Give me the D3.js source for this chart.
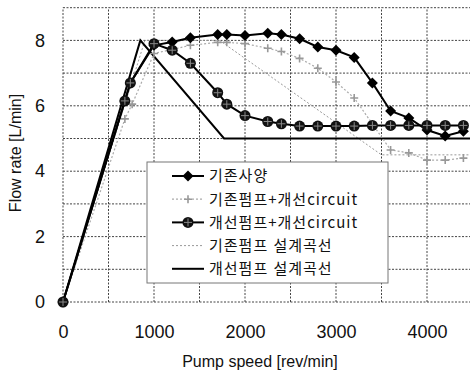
<!DOCTYPE html>
<html lang="ko">
<head>
<meta charset="UTF-8">
<title>Flow rate vs Pump speed</title>
<script src="https://d3js.org/d3.v7.min.js"></script>
<style>
  body { margin: 0; background: #fff; }
  .grid line { stroke: #444; stroke-width: 1; stroke-dasharray: 2,1.5; }
  .tick text { font-family: "Liberation Sans", Arial, sans-serif; font-size: 18px; fill: #111; }
  .title { font-family: "Liberation Sans", Arial, sans-serif; font-size: 16px; fill: #111; }
  .legend text { font-family: "Noto Sans CJK KR", sans-serif; font-size: 15px; fill: #111; }
</style>
</head>
<body>
<svg width="470" height="372"></svg>
<script>
// readings from the picture (rev/min -> L/min)
const baseSpec = [[0,0],[680,6.15],[740,6.7],[1000,7.85],[1200,7.95],[1400,8.08],[1700,8.18],[1800,8.18],
  [2000,8.15],[2250,8.22],[2400,8.18],[2600,8.05],[2800,7.8],[3000,7.7],[3200,7.48],[3400,6.7],
  [3600,5.84],[3800,5.63],[4000,5.26],[4200,5.08],[4400,5.22]];
const basePumpNewCircuit = [[0,0],[680,5.6],[760,6.05],[1000,7.6],[1400,7.85],[1700,7.94],[1800,7.94],
  [2000,7.9],[2250,7.76],[2400,7.66],[2600,7.45],[2800,7.15],[3000,6.73],[3200,6.24],[3600,4.65],
  [3800,4.56],[4000,4.34],[4200,4.34],[4400,4.4]];
const newPumpNewCircuit = [[0,0],[680,6.15],[740,6.7],[1000,7.9],[1200,7.7],[1400,7.3],[1700,6.4],[1800,6.05],
  [2000,5.7],[2250,5.52],[2400,5.45],[2600,5.38],[2800,5.38],[3000,5.38],[3200,5.38],[3400,5.4],
  [3600,5.4],[3800,5.4],[4000,5.4],[4200,5.4],[4400,5.4]];
const baseDesign = [[0,0],[900,8],[1720,8],[3500,4.5],[4500,4.5]];
const newDesign = [[0,0],[850,8],[1770,5],[4500,5]];

const xTicks = [0, 1000, 2000, 3000, 4000];
const yTicks = [0, 2, 4, 6, 8];
const legendLabels = ["기존사양", "기존펌프+개선circuit", "개선펌프+개선circuit", "기존펌프 설계곡선", "개선펌프 설계곡선"];

const svg = d3.select("svg");
const x = d3.scaleLinear().domain([0, 4500]).range([63, 472.5]);
const y = d3.scaleLinear().domain([0, 9]).range([302, 7.7]);

// grid
const grid = svg.append("g").attr("class", "grid");
grid.selectAll(".v").data(d3.range(0, 4501, 500)).enter().append("line")
  .attr("x1", d => x(d)).attr("x2", d => x(d)).attr("y1", y(0)).attr("y2", y(9));
grid.selectAll(".h").data(d3.range(0, 10)).enter().append("line")
  .attr("x1", x(0)).attr("x2", x(4500)).attr("y1", d => y(d)).attr("y2", d => y(d));

// axes
svg.append("g").attr("transform", `translate(0,${y(0)})`)
  .call(d3.axisBottom(x).tickValues(xTicks).tickFormat(d3.format("d")).tickSize(0).tickPadding(23))
  .call(g => g.select(".domain").remove());
svg.append("g").attr("transform", `translate(${x(0)},0)`)
  .call(d3.axisLeft(y).tickValues(yTicks).tickSize(0).tickPadding(18))
  .call(g => g.select(".domain").remove());

svg.append("text").attr("class", "title").attr("x", 260).attr("y", 367)
  .attr("text-anchor", "middle").text("Pump speed [rev/min]");
svg.append("text").attr("class", "title")
  .attr("transform", "translate(21,153) rotate(-90)")
  .attr("text-anchor", "middle").text("Flow rate [L/min]");

const line = d3.line().x(d => x(d[0])).y(d => y(d[1]));
const diamond = "M0,-5.5L5.5,0L0,5.5L-5.5,0Z";

function drawMarker(g, kind) {
  if (kind === "diamond") {
    g.append("path").attr("d", diamond).attr("fill", "#000");
  } else if (kind === "circle") {
    g.append("circle").attr("r", 5.5).attr("fill", "#111");
    g.append("path").attr("d", "M-4,0H4M0,-4V4").attr("stroke", "#888").attr("stroke-width", 1);
  } else if (kind === "plus") {
    g.append("path").attr("d", "M-4,0H4M0,-4V4").attr("stroke", "#999").attr("stroke-width", 1.6);
  }
}

const series = [
  { data: baseDesign, stroke: "#999", width: 1, dash: "2,2", marker: null },
  { data: newDesign, stroke: "#000", width: 2, dash: null, marker: null },
  { data: basePumpNewCircuit, stroke: "#aaa", width: 1.2, dash: "2,2", marker: "plus" },
  { data: baseSpec, stroke: "#000", width: 2, dash: null, marker: "diamond" },
  { data: newPumpNewCircuit, stroke: "#000", width: 2, dash: null, marker: "circle" }
];

series.forEach(s => {
  svg.append("path").datum(s.data).attr("d", line)
    .attr("fill", "none").attr("stroke", s.stroke).attr("stroke-width", s.width)
    .attr("stroke-dasharray", s.dash);
  if (s.marker) {
    svg.append("g").selectAll("g").data(s.data).enter().append("g")
      .attr("transform", d => `translate(${x(d[0])},${y(d[1])})`)
      .each(function () { drawMarker(d3.select(this), s.marker); });
  }
});

// legend
const legendStyles = [
  { stroke: "#000", width: 2, dash: null, marker: "diamond" },
  { stroke: "#aaa", width: 1.2, dash: "2,2", marker: "plus" },
  { stroke: "#000", width: 2, dash: null, marker: "circle" },
  { stroke: "#999", width: 1, dash: "2,2", marker: null },
  { stroke: "#000", width: 2, dash: null, marker: null }
];
const legend = svg.append("g").attr("class", "legend");
legend.append("rect").attr("x", 147).attr("y", 162).attr("width", 241).attr("height", 121)
  .attr("fill", "#fff").attr("stroke", "#777").attr("stroke-width", 1);
legendLabels.forEach((label, i) => {
  const st = legendStyles[i];
  const ly = 176 + i * 23.2;
  legend.append("line").attr("x1", 172).attr("x2", 204).attr("y1", ly).attr("y2", ly)
    .attr("stroke", st.stroke).attr("stroke-width", st.width).attr("stroke-dasharray", st.dash);
  if (st.marker) drawMarker(legend.append("g").attr("transform", `translate(188,${ly})`), st.marker);
  legend.append("text").attr("x", 209).attr("y", ly).attr("dy", "0.36em")
    .attr("letter-spacing", "1px").text(label);
});
</script>
</body>
</html>
